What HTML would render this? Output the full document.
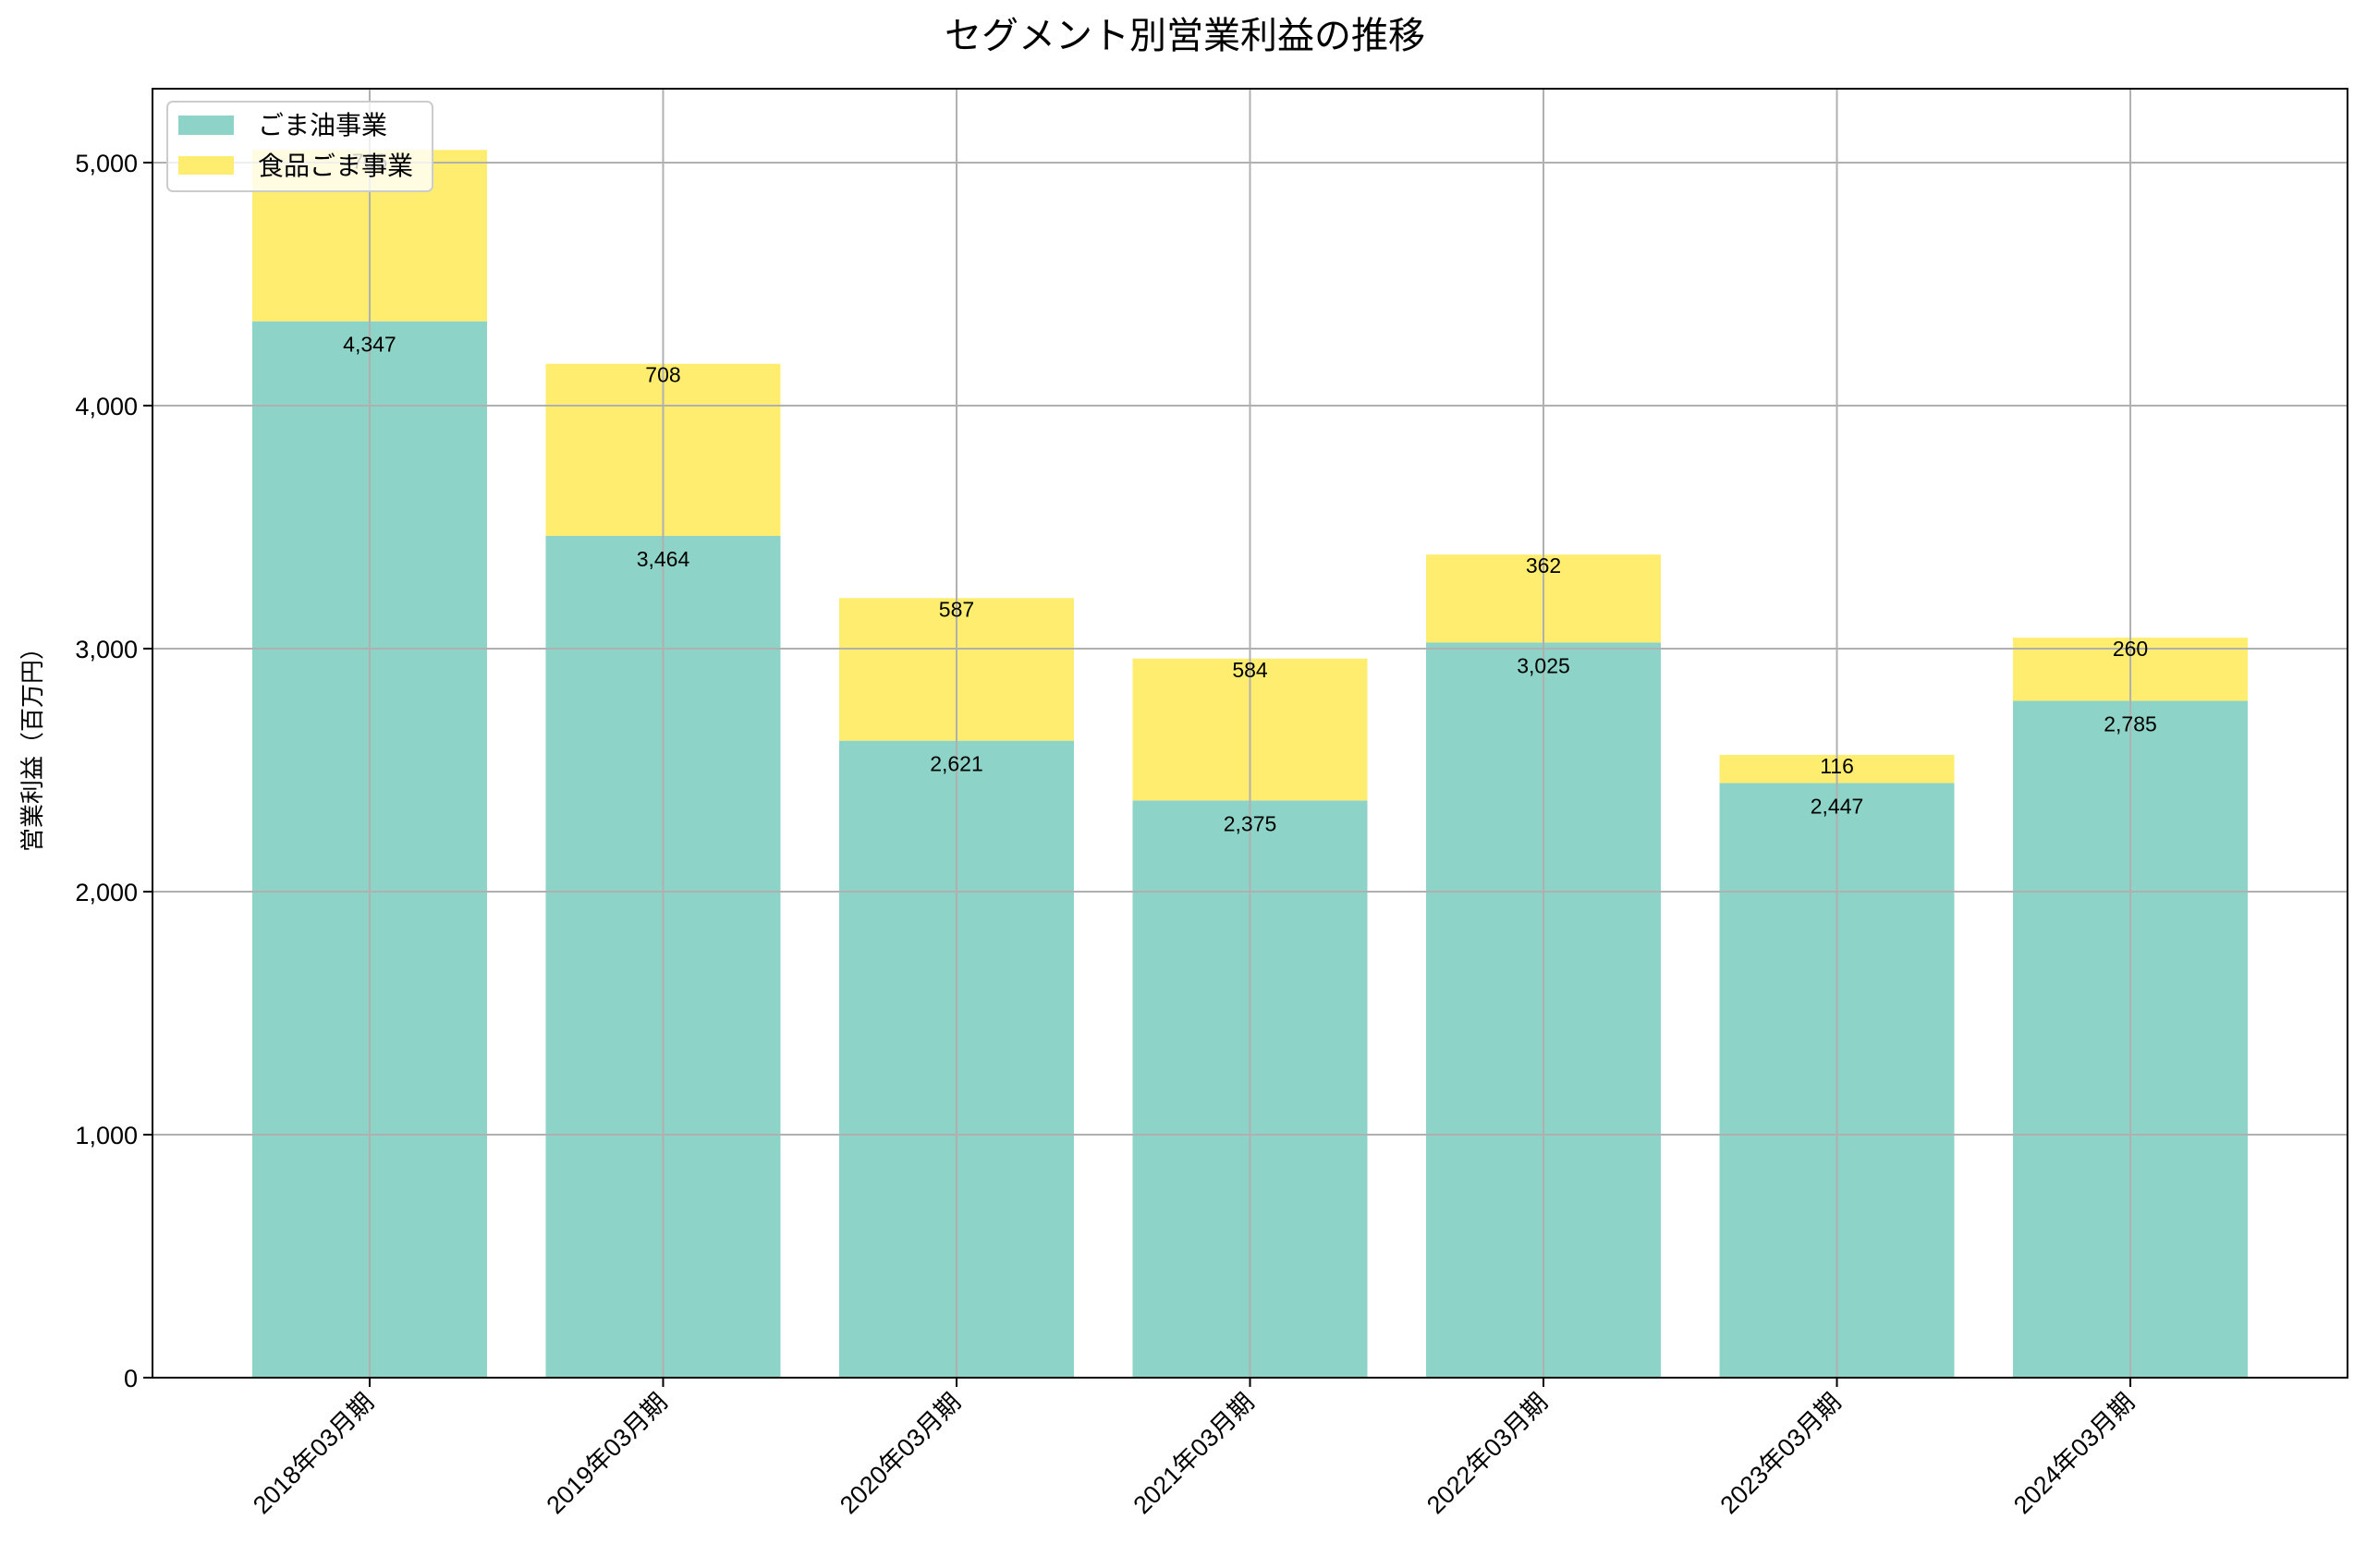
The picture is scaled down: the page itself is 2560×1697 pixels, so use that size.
<!DOCTYPE html>
<html><head><meta charset="utf-8"><style>
html,body{margin:0;padding:0;background:#fff;}
svg{display:block;font-family:"Liberation Sans","Noto Sans CJK JP",sans-serif;}
</style></head><body>
<svg id="chart" width="2560" height="1697" viewBox="0 0 2560 1697" xmlns="http://www.w3.org/2000/svg">
<text x="1282" y="52" font-size="40" text-anchor="middle" fill="#000">セグメント別営業利益の推移</text>
<text x="0" y="0" font-size="26" text-anchor="middle" transform="translate(44,805) rotate(-90)" fill="#000">営業利益（百万円）</text>
<g id="bars"></g><g id="grid"></g><g id="labels"></g><g id="ticks"></g>
<rect x="165" y="96" width="2375" height="1395" fill="none" stroke="#000" stroke-width="2"/>
<g>
<rect x="181" y="110" width="287" height="97" rx="6" fill="#fff" fill-opacity="0.8" stroke="#ccc" stroke-width="2"/>
<rect x="193" y="125" width="60" height="21" fill="#8dd3c7"/>
<text x="279" y="145" font-size="28">ごま油事業</text>
<rect x="193" y="169" width="60" height="20" fill="#ffed6f"/>
<text x="279" y="189" font-size="28">食品ごま事業</text>
</g>
</svg>
<script>
const categories=["2018年03月期","2019年03月期","2020年03月期","2021年03月期","2022年03月期","2023年03月期","2024年03月期"];
const oilValues=[4347,3464,2621,2375,3025,2447,2785];
const foodValues=[705,708,587,584,362,116,260];
const yTicks=[0,1000,2000,3000,4000,5000];
const yTickLabels=["0","1,000","2,000","3,000","4,000","5,000"];
const NS="http://www.w3.org/2000/svg";
const L=165,R=2540,T=96,B=1491,xmin=-0.74,xmax=6.74,ymax=5304;
const xs=i=>L+(i-xmin)/(xmax-xmin)*(R-L);
const ys=v=>B-v/ymax*(B-T);
const bw=0.8*(R-L)/(xmax-xmin);
function mk(tag,attrs,parent,txt){const e=document.createElementNS(NS,tag);for(const k in attrs)e.setAttribute(k,attrs[k]);if(txt!==undefined)e.textContent=txt;document.getElementById(parent).appendChild(e);return e;}
const fmt=v=>v.toLocaleString("en-US");
categories.forEach((c,i)=>{
 const cx=xs(i),o=oilValues[i],f=foodValues[i];
 let e=mk("rect",{x:cx-bw/2,y:ys(o),width:bw,height:ys(0)-ys(o),fill:"#8dd3c7"},"bars");
 
 
 e=mk("rect",{x:cx-bw/2,y:ys(o+f),width:bw,height:ys(o)-ys(o+f),fill:"#ffed6f"},"bars");
 
 
 e=mk("text",{x:cx,y:ys(o)+33,"font-size":23,"text-anchor":"middle"},"labels",fmt(o));
 
 
 e=mk("text",{x:cx,y:ys(o+f)+20,"font-size":23,"text-anchor":"middle"},"labels",fmt(f));
 
 
 e=mk("line",{x1:cx,x2:cx,y1:T,y2:B,stroke:"#b0b0b0","stroke-width":2},"grid");
 
 
 e=mk("line",{x1:cx,x2:cx,y1:B,y2:B+10,stroke:"#000","stroke-width":2},"ticks");
 
 
 e=mk("text",{x:0,y:0,"font-size":27,"text-anchor":"end",transform:`translate(${cx+6},${B+28}) rotate(-45)`},"ticks",c);
 
 
});
yTicks.forEach((v,i)=>{
 const y=ys(v);
 let e=mk("line",{x1:L,x2:R,y1:y,y2:y,stroke:"#b0b0b0","stroke-width":2},"grid");
 
 
 e=mk("line",{x1:L-10,x2:L,y1:y,y2:y,stroke:"#000","stroke-width":2},"ticks");
 
 
 e=mk("text",{x:L-16,y:y+10,"font-size":27,"text-anchor":"end"},"ticks",yTickLabels[i]);
 
 
});
</script>
</body></html>
